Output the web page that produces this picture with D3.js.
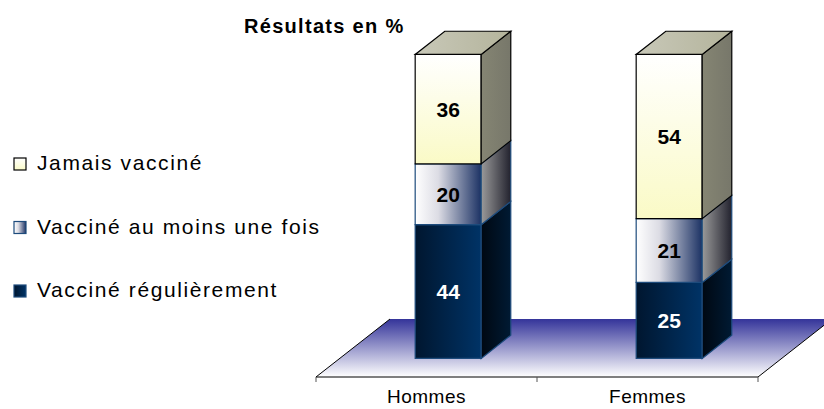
<!DOCTYPE html>
<html><head><meta charset="utf-8">
<script src="https://cdn.jsdelivr.net/npm/d3@7"></script>
<style>body{margin:0;background:#fff}svg{display:block}</style>
</head><body>
<svg id="chart" width="824" height="409"></svg>
<script>
const categories = ["Hommes", "Femmes"];
const seriesKeys = ["reg", "once", "never"];
const seriesNames = ["Vacciné régulièrement", "Vacciné au moins une fois", "Jamais vacciné"];
const regulierement = [44, 25];
const auMoinsUneFois = [20, 21];
const jamais = [36, 54];
const title = "Résultats en %";

const svg = d3.select("#chart");
const font = 'Arial, "Liberation Sans", sans-serif';

// geometry of the pseudo-3D floor and bars
const floorFront = 377, floorLeft = 316, floorRight = 758;
const DX = 74, DY = -58;          // full floor depth vector
const barD0 = 0.32, barDepth = 0.4;
const barW = 66;

const x = d3.scaleBand().domain(categories).range([floorLeft, floorRight]);
const y = d3.scaleLinear().domain([0, 100]).range([floorFront, floorFront - 304]);
const p = (xv, v, d) => [xv + d * DX, y(v) + d * DY];

const table = categories.map((c, i) => ({ cat: c, reg: regulierement[i], once: auMoinsUneFois[i], never: jamais[i] }));
const stacked = d3.stack().keys(seriesKeys)(table);

// gradients
const defs = svg.append("defs");
function grad(id, stops, vertical) {
    const g = defs.append("linearGradient").attr("id", id)
        .attr("x1", 0).attr("y1", 0).attr("x2", vertical ? 0 : 1).attr("y2", vertical ? 1 : 0);
    stops.forEach(([o, c]) => g.append("stop").attr("offset", o).attr("stop-color", c));
}
grad("floorG", [[0, "#34349a"], [1, "#ffffff"]], true);
grad("regF", [[0, "#00162f"], [1, "#003366"]]);
grad("regS", [[0, "#000812"], [1, "#001a33"]]);
grad("onceF", [[0, "#ffffff"], [0.35, "#dcdce4"], [1, "#1c3264"]]);
grad("onceS", [[0, "#9a9a9a"], [1, "#22222e"]]);
grad("neverF", [[0, "#ffffff"], [1, "#fafac6"]], true);
grad("neverS", [[0, "#858573"], [1, "#77776a"]]);
grad("neverT", [[0, "#c8c8b8"], [1, "#b4b49c"]]);

const styles = {
    reg: { front: "url(#regF)", side: "url(#regS)", stroke: "#1d4b7c", text: "#ffffff" },
    once: { front: "url(#onceF)", side: "url(#onceS)", stroke: "#1d4b7c", text: "#000000" },
    never: { front: "url(#neverF)", side: "url(#neverS)", top: "url(#neverT)", stroke: "#000000", text: "#000000" }
};

// floor
const fl = [p(floorLeft, 0, 0), p(floorRight, 0, 0), p(floorRight, 0, 1), p(floorLeft, 0, 1)];
svg.append("polygon").attr("points", fl.map(d => d.join(",")).join(" ")).attr("fill", "url(#floorG)");
svg.append("polyline").attr("points", [fl[3], fl[0], fl[1], fl[2]].map(d => d.join(",")).join(" "))
    .attr("fill", "none").attr("stroke", "#000").attr("stroke-width", 1);

// ticks
const tickXs = categories.map(c => x(c)).concat([floorRight]);
svg.selectAll("line.tick").data(tickXs).join("line").attr("class", "tick")
    .attr("x1", d => d).attr("x2", d => d).attr("y1", floorFront).attr("y2", floorFront + 5)
    .attr("stroke", "#555").attr("stroke-width", 1);

svg.selectAll("text.cat").data(categories).join("text").attr("class", "cat")
    .attr("x", d => x(d) + x.bandwidth() / 2).attr("y", 403)
    .attr("text-anchor", "middle").style("font-family", font).style("font-size", "19px")
    .style("letter-spacing", "0.5px").text(d => d);

// bars
const poly = pts => pts.map(d => d.join(",")).join(" ");
categories.forEach((c, ci) => {
    const x0 = x(c) + x.bandwidth() / 2 - barW / 2 - 2, x1 = x0 + barW;
    const g = svg.append("g");
    stacked.forEach((layer, li) => {
        const [v0, v1] = layer[ci];
        const st = styles[layer.key];
        const d0 = barD0, d1 = barD0 + barDepth;
        g.append("polygon").attr("points", poly([p(x0, v0, d0), p(x1, v0, d0), p(x1, v1, d0), p(x0, v1, d0)]))
            .attr("fill", st.front).attr("stroke", st.stroke).attr("stroke-width", 1.2);
        g.append("polygon").attr("points", poly([p(x1, v0, d0), p(x1, v0, d1), p(x1, v1, d1), p(x1, v1, d0)]))
            .attr("fill", st.side).attr("stroke", st.stroke).attr("stroke-width", 1.2);
        if (li === stacked.length - 1) {
            g.append("polygon").attr("points", poly([p(x0, v1, d0), p(x1, v1, d0), p(x1, v1, d1), p(x0, v1, d1)]))
                .attr("fill", st.top).attr("stroke", st.stroke).attr("stroke-width", 1.2);
        }
        const c0 = p((x0 + x1) / 2, (v0 + v1) / 2, d0);
        g.append("text").attr("x", c0[0]).attr("y", c0[1]).attr("dy", "0.36em")
            .attr("text-anchor", "middle").style("font-family", font).style("font-size", "21px")
            .style("font-weight", "bold").style("fill", st.text).text(v1 - v0);
    });
});

// title
svg.append("text").attr("x", 244).attr("y", 33).style("font-family", font)
    .style("font-size", "20px").style("font-weight", "bold").style("letter-spacing", "1.3px").text(title);

// legend
const legendOrder = ["never", "once", "reg"];
const legendFill = { never: "url(#neverF)", once: "url(#onceF)", reg: "url(#regF)" };
const lg = svg.selectAll("g.leg").data(legendOrder).join("g").attr("class", "leg")
    .attr("transform", (d, i) => `translate(0,${170 + i * 63.5})`);
lg.append("rect").attr("x", 14).attr("y", -12).attr("width", 12).attr("height", 12)
    .attr("fill", d => legendFill[d]).attr("stroke", d => styles[d].stroke).attr("stroke-width", 1.2);
lg.append("text").attr("x", 37).attr("y", 0).style("font-family", font).style("font-size", "21px")
    .style("letter-spacing", "1.6px").text(d => seriesNames[seriesKeys.indexOf(d)]);
</script>
</body></html>
